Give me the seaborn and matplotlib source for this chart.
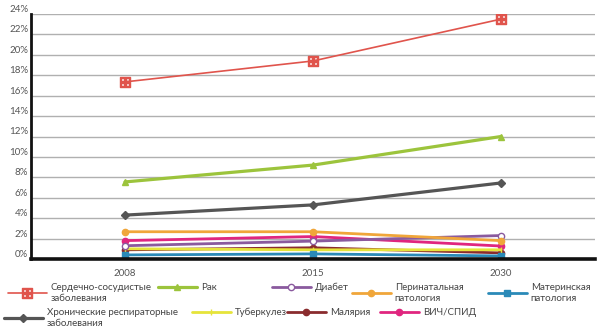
import matplotlib
matplotlib.use("Agg")
import matplotlib.pyplot as plt
from matplotlib.lines import Line2D
from matplotlib.ticker import FuncFormatter
import pandas as pd
import seaborn as sns

years = ["2008", "2015", "2030"]

cardio = [17.35, 19.4, 23.5]
cancer = [7.55, 9.2, 12.0]
diabetes = [1.3, 1.75, 2.3]
perinatal = [2.67, 2.67, 1.8]
maternal = [0.4, 0.5, 0.3]
respiratory = [4.3, 5.3, 7.45]
tuberculosis = [1.0, 0.9, 0.9]
malaria = [0.9, 1.1, 0.6]
hiv = [1.8, 2.2, 1.27]

names = [
    "Сердечно-сосудистые\nзаболевания", "Рак", "Диабет",
    "Перинатальная\nпатология", "Материнская\nпатология",
    "Хронические респираторные\nзаболевания", "Туберкулез",
    "Малярия", "ВИЧ/СПИД",
]
values = [cardio, cancer, diabetes, perinatal, maternal,
          respiratory, tuberculosis, malaria, hiv]
colors = ["#e0544c", "#9cc43c", "#8a5a9e", "#f0a63a", "#2a8ab8",
          "#555555", "#e6e43a", "#8a2c2e", "#e0267f"]
markers = ["$\\boxplus$", "^", "o", "o", "s", "D", "|", "o", "o"]
mfaces = ["#e0544c", "#9cc43c", "white", "#f0a63a", "#2a8ab8",
          "#555555", "#e6e43a", "#8a2c2e", "#e0267f"]
widths = [1.2, 2.3, 2.0, 2.0, 2.0, 2.3, 2.0, 2.0, 2.0]
msizes = [7, 5, 4.5, 4.5, 4.5, 4.5, 5, 4.5, 4.5]

sns.set_theme(style="white")
plt.rcParams["font.family"] = ["Lato", "DejaVu Sans"]

fig = plt.figure(figsize=(6.0, 3.34), dpi=100)
ax = fig.add_axes([31 / 600, 1 - 259 / 334, 564 / 600, 245 / 334])

# draw in reverse so the major series sit on top
order = [8, 7, 6, 4, 2, 3, 5, 1, 0]
for i in order:
    df = pd.DataFrame({"year": years, "share": values[i]})
    sns.lineplot(data=df, x="year", y="share", ax=ax, color=colors[i],
                 lw=widths[i], marker=markers[i], markersize=msizes[i],
                 markerfacecolor=mfaces[i], markeredgecolor=colors[i],
                 markeredgewidth=1.0, sort=False)

ax.set_xlim(-0.5, 2.5)
ax.set_ylim(0, 24)
ax.set_yticks(range(0, 25, 2))
ax.yaxis.set_major_formatter(FuncFormatter(lambda v, p: f"{int(v)}%"))
ax.grid(axis="y", color="#b0b0b0", lw=1.0)
ax.grid(axis="x", visible=False)
ax.set_axisbelow(True)
ax.set_xlabel("")
ax.set_ylabel("")
for s in ("top", "right"):
    ax.spines[s].set_visible(False)
ax.spines["left"].set_color("#111111")
ax.spines["left"].set_linewidth(2.0)
ax.spines["bottom"].set_color("#111111")
ax.spines["bottom"].set_linewidth(2.6)
ax.tick_params(axis="y", length=0, pad=2, labelsize=7, labelcolor="#555555")
ax.tick_params(axis="x", length=0, pad=7, labelsize=7, labelcolor="#555555")
for lab in ax.get_yticklabels():
    lab.set_va("bottom")

# legend entries laid out in two rows below the axes
spots = [(8, 283), (158, 283), (272, 283), (352, 283), (488, 283),
         (4, 308), (192, 308), (287, 308), (380, 308)]
for i, (px, py) in enumerate(spots):
    h = Line2D([], [], color=colors[i], lw=widths[i], marker=markers[i],
               markersize=msizes[i], markerfacecolor=mfaces[i],
               markeredgecolor=colors[i], markeredgewidth=1.0)
    leg = fig.legend([h], [names[i]], loc="upper left",
                     bbox_to_anchor=(px / 600, 1 - py / 334),
                     frameon=False, fontsize=7, handlelength=4.0,
                     handletextpad=0.4, borderpad=0, borderaxespad=0,
                     labelspacing=0)
    for t in leg.get_texts():
        t.set_color("#444444")
        t.set_linespacing(1.25)

fig.savefig("out.png", dpi=100)
